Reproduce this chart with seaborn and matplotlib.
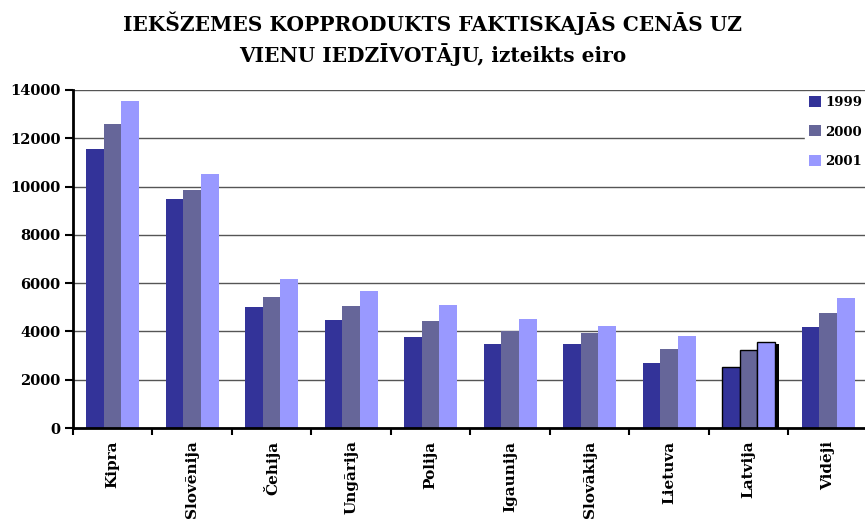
import pandas as pd
import matplotlib.pyplot as plt
import seaborn as sns
from matplotlib import patheffects

# data
countries = ['Kipra', 'Slovēnija', 'Čehija', 'Ungārija', 'Polija',
             'Igaunija', 'Slovākija', 'Lietuva', 'Latvija', 'Vidēji']
years = ['1999', '2000', '2001']
gdp_1999 = [11560, 9500, 5020, 4460, 3750, 3460, 3500, 2710, 2540, 4170]
gdp_2000 = [12600, 9870, 5430, 5040, 4420, 4000, 3920, 3290, 3250, 4750]
gdp_2001 = [13550, 10530, 6180, 5670, 5080, 4500, 4210, 3830, 3570, 5380]
colors = ['#333399', '#666699', '#9999FF']

rows = []
for yr, vals in zip(years, [gdp_1999, gdp_2000, gdp_2001]):
    for c, v in zip(countries, vals):
        rows.append({'Valsts': c, 'Gads': yr, 'Vērtība': v})
df = pd.DataFrame(rows)

sns.set_style('white')
plt.rcParams['font.family'] = ['DejaVu Serif', 'Liberation Serif']
plt.rcParams['font.weight'] = 'bold'
plt.rcParams['text.color'] = 'black'
plt.rcParams['xtick.color'] = 'black'
plt.rcParams['ytick.color'] = 'black'

fig = plt.figure(figsize=(8.65, 5.2), dpi=100)
ax = fig.add_axes([72.8 / 865, 92 / 520, 795 / 865, 338 / 520])

sns.barplot(data=df, x='Valsts', y='Vērtība', hue='Gads', order=countries,
            hue_order=years, palette=colors, width=0.667, gap=0,
            saturation=1, ax=ax, legend=True, linewidth=0, zorder=2)

# Latvija bars are outlined with a shadow in the original
lat = countries.index('Latvija')
for cont in ax.containers:
    p = cont.patches[lat]
    p.set_edgecolor('black')
    p.set_linewidth(1.0)
    p.set_path_effects([patheffects.SimplePatchShadow(offset=(2.5, -1.5),
                                                      shadow_rgbFace='black',
                                                      alpha=1.0),
                        patheffects.Normal()])

ax.set_xlim(-0.5, len(countries) - 0.5)
ax.set_ylim(0, 14000)
ax.set_yticks(range(0, 14001, 2000))
ax.yaxis.grid(True, color='#555555', linewidth=1.0)
ax.set_axisbelow(True)
ax.set_xlabel('')
ax.set_ylabel('')

ax.set_xticks([i - 0.5 for i in range(len(countries) + 1)], minor=False)
ax.set_xticklabels([])
ax.set_xticks(range(len(countries)), minor=True)
ax.set_xticklabels(countries, minor=True, rotation=90, fontsize=11,
                   fontweight='bold', va='top', ha='center')
ax.tick_params(axis='x', which='minor', length=0, pad=9)
ax.tick_params(axis='x', which='major', direction='out', length=5, width=1.5,
               color='black', bottom=True)
ax.tick_params(axis='y', direction='out', length=6, width=1.5, color='black',
               left=True, labelsize=10.5, pad=3)
for lbl in ax.get_yticklabels():
    lbl.set_fontweight('bold')

for side in ['top', 'right']:
    ax.spines[side].set_visible(False)
for side in ['left', 'bottom']:
    ax.spines[side].set_color('black')
    ax.spines[side].set_linewidth(2.0)
    ax.spines[side].set_zorder(3)

leg = ax.legend(loc='upper left', bbox_to_anchor=(805 / 865, 1 - 92 / 520),
                bbox_transform=fig.transFigure, frameon=True, framealpha=1,
                edgecolor='white', fancybox=False, handlelength=0.9,
                handleheight=0.9, handletextpad=0.35, labelspacing=1.25,
                borderpad=0.3, borderaxespad=0,
                prop={'weight': 'bold', 'size': 9.5})
for h in leg.legend_handles:
    h.set_edgecolor('none')

fig.text(0.5, 1 - 23 / 520,
         'IEKŠZEMES KOPPRODUKTS FAKTISKAJĀS CENĀS UZ',
         ha='center', va='center', fontsize=14.5, fontweight='bold')
fig.text(0.5, 1 - 55 / 520, 'VIENU IEDZĪVOTĀJU, izteikts eiro',
         ha='center', va='center', fontsize=14.5, fontweight='bold')

fig.savefig('out.png', dpi=100, facecolor='white')
